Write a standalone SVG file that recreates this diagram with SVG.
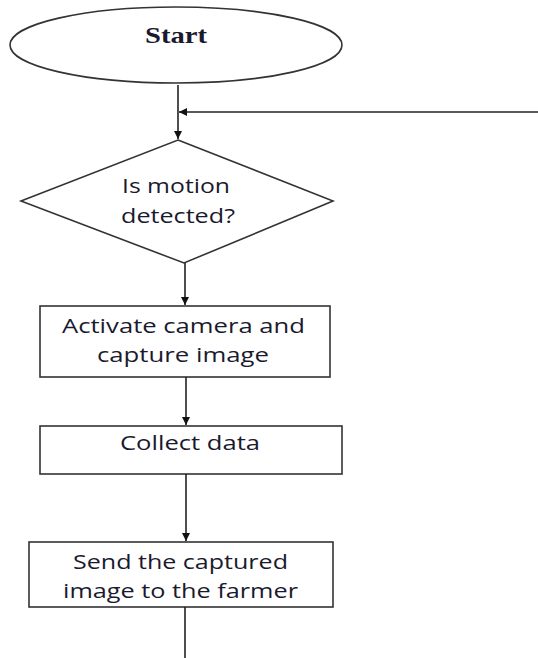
<svg xmlns="http://www.w3.org/2000/svg" width="538" height="658" viewBox="0 0 538 658">
<defs>
<marker id="ah" viewBox="0 0 10 10" refX="10" refY="5" markerWidth="8" markerHeight="8" markerUnits="userSpaceOnUse" orient="auto">
<path d="M0,0 L10,5 L0,10 z" fill="#111"/>
</marker>
</defs>
<style>
.shape{fill:#fff;stroke:#333;stroke-width:1.6}
.edge{fill:none;stroke:#222;stroke-width:1.6;marker-end:url(#ah)}
.line{fill:none;stroke:#222;stroke-width:1.6}
.t{font-family:"Open Sans",Lato,"Liberation Sans",sans-serif;font-size:20.5px;fill:#1a1a2e;text-anchor:middle}
.ts{font-family:"Liberation Serif","DejaVu Serif",serif;font-size:24px;font-weight:bold;fill:#1a1a2e;text-anchor:middle}
</style>
<rect width="538" height="658" fill="#fff"/>
<g id="start">
<ellipse class="shape" cx="176" cy="45" rx="166" ry="38"/>
<text class="ts" x="176" y="43" textLength="62" lengthAdjust="spacingAndGlyphs">Start</text>
</g>
<g id="decision">
<polygon class="shape" points="178,140 333,201 184,263 21,201"/>
<text class="t" x="176" y="193" textLength="108" lengthAdjust="spacingAndGlyphs">Is motion</text>
<text class="t" x="178" y="223" textLength="114" lengthAdjust="spacingAndGlyphs">detected?</text>
</g>
<g id="activate">
<rect class="shape" x="40" y="306" width="290" height="71"/>
<text class="t" x="183.5" y="333" textLength="243" lengthAdjust="spacingAndGlyphs">Activate camera and</text>
<text class="t" x="183" y="362" textLength="172" lengthAdjust="spacingAndGlyphs">capture image</text>
</g>
<g id="collect">
<rect class="shape" x="40" y="426" width="302" height="48"/>
<text class="t" x="190" y="450" textLength="140" lengthAdjust="spacingAndGlyphs">Collect data</text>
</g>
<g id="send">
<rect class="shape" x="29" y="542" width="304" height="65"/>
<text class="t" x="180.5" y="569" textLength="215" lengthAdjust="spacingAndGlyphs">Send the captured</text>
<text class="t" x="180.5" y="598" textLength="235" lengthAdjust="spacingAndGlyphs">image to the farmer</text>
</g>
<g id="connectors">
<path class="edge" d="M178,85 L178,139"/>
<path class="edge" d="M538,112 L179,112"/>
<path class="edge" d="M185,263 L185,305"/>
<path class="edge" d="M186,377 L186,425"/>
<path class="edge" d="M186,474 L186,541"/>
<path class="line" d="M185,607 L185,658"/>
</g>
</svg>
